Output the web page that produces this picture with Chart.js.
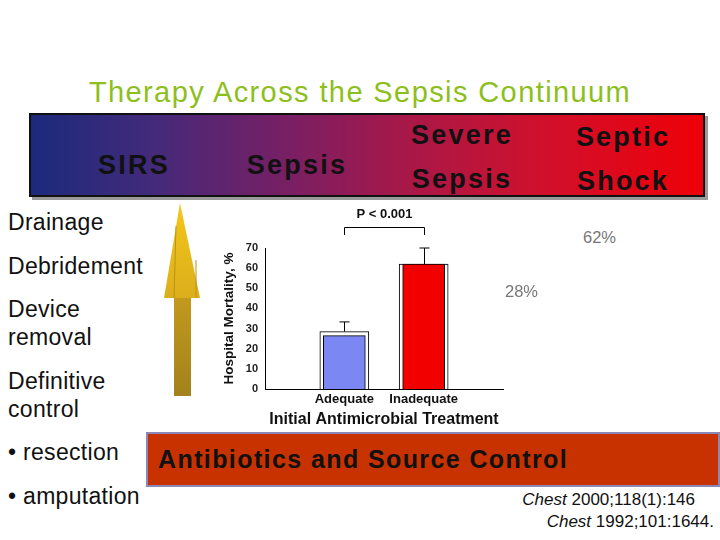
<!DOCTYPE html>
<html>
<head>
<meta charset="utf-8">
<script src="https://cdn.jsdelivr.net/npm/chart.js@4.4.1/dist/chart.umd.min.js"></script>
<style>
  html, body { margin: 0; padding: 0; background: #fff; }
  body { width: 720px; height: 540px; position: relative; overflow: hidden;
         font-family: "Liberation Sans", Arial, sans-serif; color: #111; }
  .abs { position: absolute; white-space: nowrap; }
  #title { left: 0; width: 720px; top: 76px; text-align: center; font-size: 29px;
           letter-spacing: 1.4px; color: #8dbf1c; }
  #banner { left: 29px; top: 113px; width: 672px; height: 80px; border: 2px solid #111;
            box-shadow: 3px 3px 0 #9a9a9a;
            background: linear-gradient(to right, #1b2a7c 0%, #432a7a 18%, #781f64 38%, #a81848 56%, #d0102c 76%, #ee0008 100%); }
  .stage { font-size: 27px; font-weight: bold; letter-spacing: 2.2px; color: #111;
           transform: translate(-50%, -50%); line-height: 30px; }
  .side { left: 8px; font-size: 23px; line-height: 28px; letter-spacing: 0.3px; }
  #redbox { left: 146px; top: 432px; width: 570px; height: 51px; background: #c83200;
            border: 2px solid #8a88b8; }
  #redbox span { position: absolute; left: 10px; top: 11px; font-size: 25px; font-weight: bold;
                 letter-spacing: 1.4px; color: #111; }
  .pct { font-size: 16.5px; color: #777; }
  .cite { font-size: 17px; text-align: right; }
  #chartBox { left: 200px; top: 200px; width: 320px; height: 235px; }
</style>
</head>
<body>
<div id="title" class="abs">Therapy Across the Sepsis Continuum</div>
<div id="banner" class="abs"></div>
<div class="abs stage" style="left:134px;top:165px">SIRS</div>
<div class="abs stage" style="left:297px;top:165px">Sepsis</div>
<div class="abs stage" style="left:462px;top:135px">Severe</div>
<div class="abs stage" style="left:462px;top:179px">Sepsis</div>
<div class="abs stage" style="left:623px;top:137px">Septic</div>
<div class="abs stage" style="left:623px;top:181px">Shock</div>

<div class="abs side" style="top:208px">Drainage</div>
<div class="abs side" style="top:252px">Debridement</div>
<div class="abs side" style="top:295px">Device<br>removal</div>
<div class="abs side" style="top:367px">Definitive<br>control</div>
<div class="abs side" style="top:438px">• resection</div>
<div class="abs side" style="top:482px">• amputation</div>

<svg class="abs" style="left:0;top:0" width="720" height="540">
  <defs>
    <linearGradient id="head" x1="0" y1="0" x2="0" y2="1">
      <stop offset="0" stop-color="#f4c81a"/>
      <stop offset="1" stop-color="#dcae1c"/>
    </linearGradient>
    <linearGradient id="shaft" x1="0" y1="0" x2="0" y2="1">
      <stop offset="0" stop-color="#c49a1e"/>
      <stop offset="1" stop-color="#a2821c"/>
    </linearGradient>
  </defs>
  <rect x="174" y="294" width="17" height="102" fill="url(#shaft)"/>
  <polygon points="180,203 164,298 200,298" fill="url(#head)"/>
  <line x1="176" y1="226" x2="174" y2="298" stroke="#b8921c" stroke-width="1"/>
  <line x1="196" y1="260" x2="196" y2="298" stroke="#b8921c" stroke-width="1"/>
</svg>

<div id="chartBox" class="abs"><canvas id="mortChart"></canvas></div>

<div class="abs pct" style="left:583px;top:228px">62%</div>
<div class="abs pct" style="left:505px;top:282px">28%</div>

<div id="redbox" class="abs"><span>Antibiotics and Source Control</span></div>
<div class="abs cite" style="right:25px;top:490px"><i>Chest</i> 2000;118(1):146</div>
<div class="abs cite" style="right:6px;top:512px"><i>Chest</i> 1992;101:1644.</div>

<script>
// values
const categories = ['Adequate', 'Inadequate'];
const mortality = [26.5, 62];    // coloured bar
const frameTops = [28.5, 62];    // white framed box behind each bar
const errorTops = [33.3, 70];
const barColors = ['#7b88f4', '#f20000'];
const yTicks = [0, 10, 20, 30, 40, 50, 60, 70];
const pText = 'P < 0.001';

const FONT = '"Liberation Sans", Arial, sans-serif';

// blank slots at both ends so the bars sit 1/3 and 2/3 along the axis
const labels = [''].concat(categories, ['']);
const pad = arr => [null].concat(arr, [null]);

// error whiskers and the P-value bracket
const extras = {
  id: 'extras',
  afterDatasetsDraw(chart) {
    const ctx = chart.ctx;
    const x = chart.scales.x, y = chart.scales.y;
    ctx.save();
    ctx.strokeStyle = '#000';
    ctx.lineWidth = 1;
    categories.forEach((c, i) => {
      const px = Math.round(x.getPixelForValue(i + 1)) + 0.5;
      const top = y.getPixelForValue(errorTops[i]);
      const base = y.getPixelForValue(frameTops[i]);
      ctx.beginPath();
      ctx.moveTo(px, base);
      ctx.lineTo(px, top);
      ctx.moveTo(px - 5, top);
      ctx.lineTo(px + 5, top);
      ctx.stroke();
    });
    const x1 = Math.round(x.getPixelForValue(1)) + 0.5;
    const x2 = Math.round(x.getPixelForValue(2)) + 0.5;
    const yb = Math.round(y.getPixelForValue(80.5)) + 0.5;
    const yl = y.getPixelForValue(76.5);
    ctx.beginPath();
    ctx.moveTo(x1, yl);
    ctx.lineTo(x1, yb);
    ctx.lineTo(x2, yb);
    ctx.lineTo(x2, yl);
    ctx.stroke();
    ctx.fillStyle = '#111';
    ctx.font = 'bold 13px ' + FONT;
    ctx.textAlign = 'center';
    ctx.textBaseline = 'middle';
    ctx.fillText(pText, (x1 + x2) / 2, y.getPixelForValue(86.5));
    ctx.restore();
  }
};

const config = {
  type: 'bar',
  data: {
    labels: labels,
    datasets: [{
      label: 'Hospital mortality',
      data: pad(mortality),
      backgroundColor: pad(barColors),
      borderColor: '#000',
      borderWidth: 1,
      barThickness: 42,
      grouped: false,
      order: 0
    }, {
      label: 'frame',
      data: pad(frameTops),
      backgroundColor: '#fff',
      borderColor: '#000',
      borderWidth: 1,
      barThickness: 49,
      grouped: false,
      order: 1
    }]
  },
  options: {
    responsive: true,
    maintainAspectRatio: false,
    animation: false,
    layout: { padding: { left: 0, right: 17, top: 48, bottom: 0 } },
    plugins: { legend: { display: false }, tooltip: { enabled: false } },
    scales: {
      x: {
        type: 'category',
        offset: false,
        grid: { display: false, drawTicks: false },
        border: { display: true, color: '#000', width: 1 },
        ticks: { color: '#111', padding: 3, autoSkip: false, maxRotation: 0,
                 font: { family: FONT, size: 13, weight: 'bold' } },
        title: { display: true, text: 'Initial Antimicrobial Treatment', color: '#111',
                 padding: { top: 6, bottom: 6 }, font: { family: FONT, size: 16, weight: 'bold' } },
        afterFit: s => { s.height = 46; }
      },
      y: {
        min: 0,
        max: 70,
        grid: { display: false, drawTicks: false },
        border: { display: true, color: '#000', width: 1 },
        afterBuildTicks: s => { s.ticks = yTicks.map(v => ({ value: v })); },
        ticks: { color: '#222', padding: 7,
                 font: { family: FONT, size: 11, weight: 'bold' } },
        title: { display: true, text: 'Hospital Mortality, %', color: '#111',
                 padding: { top: 21, bottom: 21 }, font: { family: FONT, size: 13.5, weight: 'bold' } },
        afterFit: s => { s.width = 65; }
      }
    }
  },
  plugins: [extras]
};

const ctx = document.getElementById('mortChart').getContext('2d');
window.mortChart = new Chart(ctx, config);
</script>
</body>
</html>
